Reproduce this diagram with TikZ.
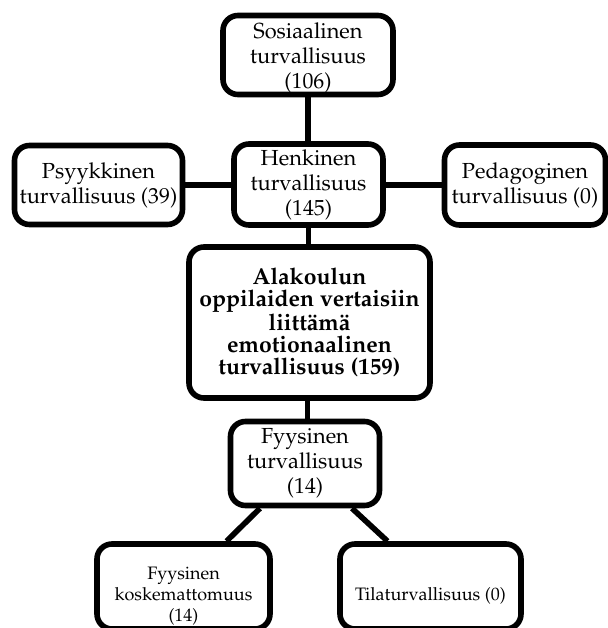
\documentclass[tikz,border=0pt]{standalone}
\usepackage[T1]{fontenc}
\usepackage{mathpazo}
\begin{document}
\begin{tikzpicture}[x=0.5pt,y=-0.5pt,
  box/.style={draw=black, line width=2.8pt, rounded corners=7.5pt, fill=white,
    align=center, inner sep=0pt, font=\fontsize{10.9}{12.5}\selectfont},
  smalltext/.style={align=center, inner sep=0pt, font=\fontsize{9}{10.5}\selectfont},
  link/.style={draw=black, line width=2.8pt}]
\useasboundingbox (0,0) rectangle (608,628);

% upper tier
\node[box, minimum width=85pt, minimum height=39.5pt,
  label={[align=center, inner sep=0pt, font=\fontsize{10.9}{12.5}\selectfont, yshift=-1.5pt]center:{Sosiaalinen\\turvallisuus\\(106)}}]
  (soc) at (308,55) {};
\node[box, minimum width=74.5pt, minimum height=40.5pt] (hen) at (308.5,184.5)
  {Henkinen\\turvallisuus\\(145)};
\node[box, minimum width=84pt, minimum height=39.5pt] (psy) at (98.5,185)
  {Psyykkinen\\turvallisuus (39)};
\node[box, minimum width=80.5pt, minimum height=40pt] (ped) at (525,185)
  {Pedagoginen\\turvallisuus (0)};

% core concept
\node[box, font=\fontsize{11.5}{11}\selectfont\bfseries,
  minimum width=120.5pt, minimum height=75.5pt] (main) at (309.5,322.5)
  {Alakoulun\\oppilaiden vertaisiin\\liitt\"am\"a\\emotionaalinen\\turvallisuus (159)};

% lower tier
\node[box, minimum width=74.5pt, minimum height=42pt] (fyy) at (305,463.5)
  {Fyysinen\\turvallisuus\\(14)};
\node[box, minimum width=86.5pt, minimum height=42.5pt,
  label={[smalltext, yshift=-4.75pt]center:{Fyysinen\\koskemattomuus\\(14)}}]
  (kos) at (183.5,586.5) {};
\node[box, minimum width=90.5pt, minimum height=42.5pt,
  label={[smalltext, yshift=-4.75pt]center:{Tilaturvallisuus (0)}}]
  (til) at (430.5,586.5) {};

% connectors
\draw[link] (soc.south) -- (soc.south |- hen.north);
\draw[link] (hen.south) -- (hen.south |- main.north);
\draw[link] ([xshift=-1pt]main.south) -- ([xshift=-1pt]main.south |- fyy.north);
\draw[link] (psy.east) -- (psy.east -| hen.west);
\draw[link] (ped.west) -- (ped.west -| hen.east);
\draw[link] ([xshift=-22.5pt]fyy.south) -- ([xshift=21.5pt]kos.north);
\draw[link] ([xshift=23.5pt]fyy.south) -- ([xshift=-21.5pt]til.north);
\end{tikzpicture}
\end{document}
